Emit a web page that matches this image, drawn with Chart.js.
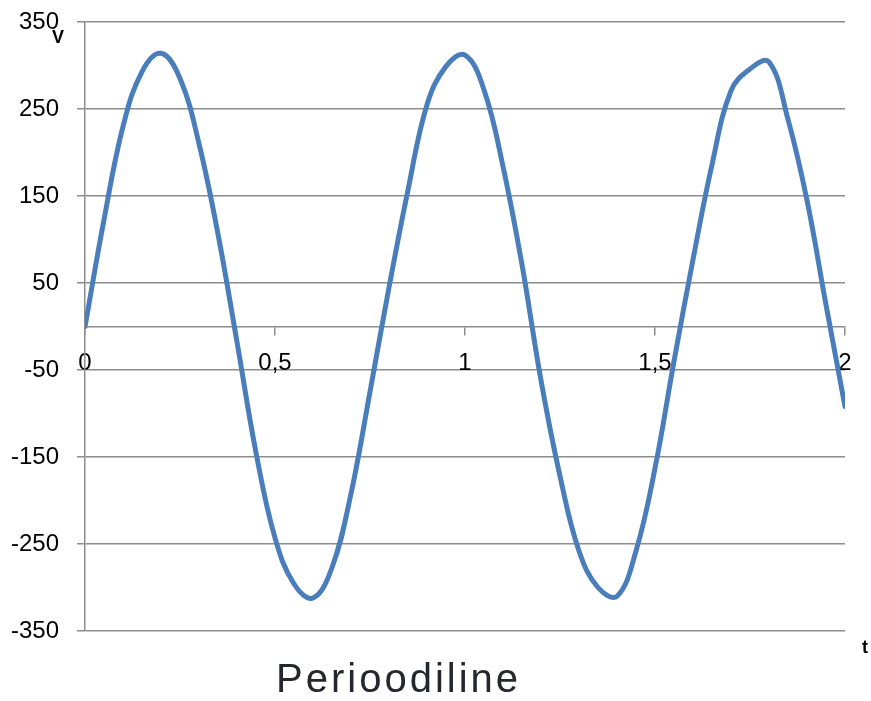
<!DOCTYPE html>
<html>
<head>
<meta charset="utf-8">
<script src="https://cdn.jsdelivr.net/npm/chart.js@4.4.1/dist/chart.umd.min.js"></script>
<style>
  html, body { margin: 0; padding: 0; background: #fff; }
</style>
</head>
<body>
<canvas id="myChart" width="871" height="701"></canvas>
<script>
// time (x) and voltage (y)
var timeValues = [0, 0.05, 0.1, 0.15, 0.2, 0.25, 0.3, 0.35, 0.4, 0.45,
                  0.5, 0.55, 0.6, 0.65, 0.7, 0.75, 0.8, 0.85, 0.9, 0.95,
                  1, 1.05, 1.1, 1.15, 1.2, 1.25, 1.3, 1.35, 1.4, 1.45,
                  1.5, 1.55, 1.6, 1.65, 1.7, 1.75, 1.8, 1.85, 1.9, 1.95, 2];
var voltValues = [0, 123, 230, 293, 314, 285, 210, 106, -18, -145,
                  -243, -296, -312, -277, -192, -75, 45, 157, 255, 299,
                  312, 272, 184, 71, -62, -172, -258, -300, -310, -258,
                  -163, -40, 77, 186, 271, 296, 304, 238, 145, 25, -92];

var chartTitle = 'Perioodiline';
var yAxisName = 'V';
var xAxisName = 't';

var gridColor = '#8c8c8c';
var lineColor = '#4a7ebb';

Chart.defaults.font.family = '"Liberation Sans", Arial, sans-serif';

// extra texts: axis names and the title under the plot
const extraText = {
  id: 'extraText',
  afterDraw(chart) {
    const ctx = chart.ctx;
    const area = chart.chartArea;
    ctx.save();
    ctx.fillStyle = '#000';
    ctx.font = 'bold 18px "Liberation Sans"';
    ctx.textBaseline = 'alphabetic';
    ctx.textAlign = 'center';
    ctx.fillText(yAxisName, area.left - 27, area.top + 21);
    ctx.textAlign = 'left';
    ctx.fillText(xAxisName, area.right + 17, area.bottom + 22);

    ctx.font = '40px "Liberation Sans"';
    ctx.fillStyle = '#26262e';
    ctx.letterSpacing = '3px';
    ctx.fillText(chartTitle, area.left + 191, area.bottom + 61);
    ctx.restore();
  }
};

const ctx = document.getElementById('myChart');
const myChart = new Chart(ctx, {
  type: 'line',
  data: {
    datasets: [{
      data: timeValues.map(function (t, i) { return { x: t, y: voltValues[i] }; }),
      borderColor: lineColor,
      borderWidth: 5,
      pointRadius: 0,
      tension: 0.4,
      borderCapStyle: 'round',
      borderJoinStyle: 'round',
      fill: false
    }]
  },
  options: {
    responsive: false,
    animation: false,
    layout: { padding: { left: -7, right: 26, top: 22, bottom: 70 } },
    plugins: {
      legend: { display: false },
      tooltip: { enabled: false }
    },
    scales: {
      x: {
        type: 'linear',
        position: { y: 0 },
        min: 0,
        max: 2,
        grid: { drawOnChartArea: false, tickLength: 8, color: gridColor, lineWidth: 1.5 },
        border: { color: gridColor, width: 1.5 },
        ticks: {
          stepSize: 0.5,
          autoSkip: false,
          maxRotation: 0,
          padding: 14,
          color: '#000',
          font: { size: 24 },
          callback: function (v) { return String(v).replace('.', ','); }
        }
      },
      y: {
        min: -350,
        max: 350,
        grid: { color: gridColor, lineWidth: 1.5, tickLength: 8 },
        border: { color: gridColor, width: 1.5 },
        ticks: {
          stepSize: 100,
          padding: 18,
          color: '#000',
          font: { size: 24 },
          callback: function (v) { return String(v); }
        },
        // labels may reach above the plot, as in the reference
        afterFit: function (scale) {
          scale.paddingTop = 0;
          scale.paddingBottom = 0;
        }
      }
    }
  },
  plugins: [extraText]
});
</script>
</body>
</html>
